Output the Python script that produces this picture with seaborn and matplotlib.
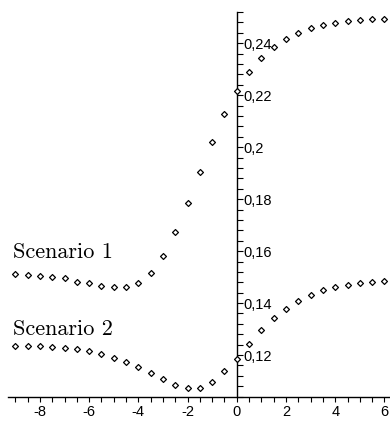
import matplotlib
matplotlib.use("Agg")
import matplotlib.pyplot as plt
import seaborn as sns
import numpy as np
import pandas as pd
from matplotlib.ticker import FixedLocator, FixedFormatter

# ---- data ----
x_values = [-9, -8.5, -8, -7.5, -7, -6.5, -6, -5.5, -5, -4.5, -4, -3.5, -3, -2.5, -2,
            -1.5, -1, -0.5, 0, 0.5, 1, 1.5, 2, 2.5, 3, 3.5, 4, 4.5, 5, 5.5, 6]
scenario1 = [0.1512, 0.1508, 0.1504, 0.1501, 0.1495, 0.1482, 0.1476, 0.1467, 0.1461,
             0.1463, 0.1478, 0.1517, 0.1581, 0.1674, 0.1786, 0.1905, 0.2021, 0.2127,
             0.2218, 0.2288, 0.2342, 0.2387, 0.2417, 0.2441, 0.2458, 0.2469, 0.2478,
             0.2485, 0.2489, 0.2492, 0.2492]
scenario2 = [0.1236, 0.1235, 0.1233, 0.1231, 0.1227, 0.1222, 0.1214, 0.1204, 0.1190,
             0.1174, 0.1153, 0.1130, 0.1106, 0.1085, 0.1072, 0.1074, 0.1097, 0.1137,
             0.1186, 0.1241, 0.1295, 0.1341, 0.1377, 0.1409, 0.1431, 0.1449, 0.1462,
             0.1471, 0.1478, 0.1482, 0.1485]
series_labels = ["Scenario 1", "Scenario 2"]
x_major_ticks = [-8, -6, -4, -2, 0, 2, 4, 6]
x_tick_labels = ["-8", "-6", "-4", "-2", "0", "2", "4", "6"]
y_major_ticks = [0.12, 0.14, 0.16, 0.18, 0.20, 0.22, 0.24]
y_tick_labels = ["0,12", "0,14", "0,16", "0,18", "0,2", "0,22", "0,24"]

df = pd.DataFrame({
    "x": x_values * 2,
    "y": scenario1 + scenario2,
    "series": [series_labels[0]] * len(x_values) + [series_labels[1]] * len(x_values),
})

sns.set_style("white")
plt.rcParams["font.family"] = ["Liberation Sans", "DejaVu Sans"]

fig = plt.figure(figsize=(3.9, 4.24), dpi=100)
ax = fig.add_axes([0.0203, 0.0646, 0.978, 0.9069])

sns.scatterplot(data=df, x="x", y="y", hue="series",
                palette=["black", "black"], marker="D", s=9,
                facecolor="white", edgecolor="black", linewidth=0.9,
                legend=False, ax=ax, clip_on=False, zorder=3)
for coll in ax.collections:
    coll.set_facecolor("white")
    coll.set_edgecolor("black")

ax.set_xlim(-9.3, 6.2)
ax.set_ylim(0.104, 0.252)

# spines: x-axis at bottom, y-axis through x=0
ax.spines["top"].set_visible(False)
ax.spines["left"].set_visible(False)
ax.spines["right"].set_position(("data", 0))
for s in ("right", "bottom"):
    ax.spines[s].set_color("black")
    ax.spines[s].set_linewidth(1.0)
ax.yaxis.tick_right()
ax.yaxis.set_label_position("right")

ax.xaxis.set_major_locator(FixedLocator(x_major_ticks))
ax.xaxis.set_major_formatter(FixedFormatter(x_tick_labels))
ax.xaxis.set_minor_locator(FixedLocator(np.arange(-9.0, 6.01, 0.5)))
ax.yaxis.set_major_locator(FixedLocator(y_major_ticks))
ax.yaxis.set_major_formatter(FixedFormatter(y_tick_labels))
ax.yaxis.set_minor_locator(FixedLocator(np.arange(0.104, 0.2521, 0.004)))

ax.tick_params(axis="x", which="both", direction="out", length=3.8, width=0.8,
               color="black", bottom=True)
ax.tick_params(axis="x", which="major", labelsize=10.5, pad=2, labelcolor="black")
ax.tick_params(axis="y", which="both", direction="out", length=4.2, width=0.8,
               color="black", right=True, left=False)
ax.tick_params(axis="y", which="major", labelsize=10.5, pad=0.8, labelcolor="black")

ax.set_xlabel("")
ax.set_ylabel("")
ax.grid(False)
ax.patch.set_alpha(0)

ax.text(-9.09, 0.1573, series_labels[0], fontfamily="cmr10", fontsize=16,
        va="baseline", ha="left", color="black")
ax.text(-9.09, 0.1277, series_labels[1], fontfamily="cmr10", fontsize=16,
        va="baseline", ha="left", color="black")

fig.savefig("out.png", dpi=100)
